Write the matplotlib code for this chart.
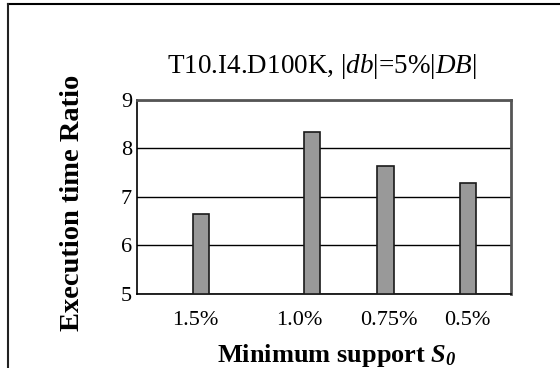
import matplotlib
matplotlib.use('Agg')
import matplotlib.pyplot as plt
from matplotlib.lines import Line2D

plt.rcParams['font.family'] = ['Liberation Serif', 'DejaVu Serif']
plt.rcParams['mathtext.fontset'] = 'custom'
plt.rcParams['mathtext.rm'] = 'Liberation Serif'
plt.rcParams['mathtext.it'] = 'Liberation Serif:italic'
plt.rcParams['mathtext.bf'] = 'Liberation Serif:bold'
plt.rcParams['mathtext.bfit'] = 'Liberation Serif:italic:bold'

# data
supports = ['1.5%', '1.0%', '0.75%', '0.5%']
ratios = [6.64, 8.34, 7.64, 7.28]

# slot layout (axes fraction), the original spacing is uneven
bar_x = [0.170, 0.467, 0.664, 0.886]
label_x = [0.156, 0.432, 0.672, 0.882]

fig = plt.figure(figsize=(5.6, 3.68), dpi=100)
ax = fig.add_axes([0.2455, 0.2024, 0.667, 0.526])

ax.bar(bar_x, [r - 5 for r in ratios], bottom=5, width=0.043,
       color='#999999', edgecolor='#1a1a1a', linewidth=1.2, zorder=3)
ax.set_xlim(0, 1)
ax.set_ylim(5, 9)
ax.set_yticks([5, 6, 7, 8, 9])
ax.set_xticks([])
ax.tick_params(axis='y', length=0, pad=4, labelsize=16)
ax.yaxis.grid(True, color='black', linewidth=1.0)
ax.set_axisbelow(True)

for s in ['left', 'bottom']:
    ax.spines[s].set_color('black')
    ax.spines[s].set_linewidth(1.2)
for s in ['top', 'right']:
    ax.spines[s].set_color('#555555')
    ax.spines[s].set_linewidth(2)

for x, lab in zip(label_x, supports):
    ax.text(x, -0.137, lab, transform=ax.transAxes, ha='center', va='center',
            fontsize=16)

fig.text(0.575, 0.82, r'T10.I4.D100K, |$\mathit{db}$|=5%|$\mathit{DB}$|',
         ha='center', va='center', fontsize=19.5)
fig.text(0.130, 0.449, 'Execution time Ratio', rotation=90, ha='center',
         va='center', fontsize=20.5, fontweight='bold')
fig.text(0.602, 0.016, r'Minimum support $\mathbfit{S}_{\mathbfit{0}}$',
         ha='center', va='baseline', fontsize=19, fontweight='bold')

# outer frame (top and left edges only visible)
fig.add_artist(Line2D([8/560, 1], [1 - 4/368, 1 - 4/368], color='black',
                      linewidth=1.5, transform=fig.transFigure))
fig.add_artist(Line2D([8/560, 8/560], [0, 1 - 4/368], color='#222222',
                      linewidth=1.5, transform=fig.transFigure))

fig.savefig('out.png', dpi=100)
